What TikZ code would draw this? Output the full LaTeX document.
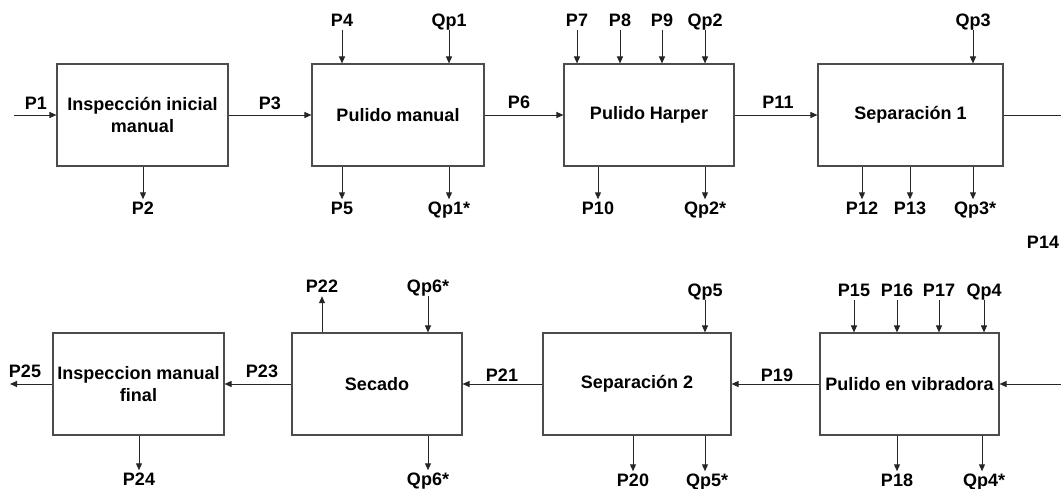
\documentclass[tikz,border=0pt]{standalone}
\usepackage{fontspec}
\setmainfont{Liberation Sans}
\usetikzlibrary{arrows.meta}
\begin{document}
\begin{tikzpicture}[x=1pt,y=-1pt,
  txt/.style={font=\fontsize{18}{22}\selectfont\bfseries},
  proc/.style={txt, draw=black!70, line width=1.1pt, minimum height=102pt,
    inner sep=0pt, align=center},
  lbl/.style={txt, anchor=base, text height=13pt, text depth=0pt, inner xsep=1pt},
  lblin/.style={lbl, inner ysep=4pt},
  lblout/.style={lbl, inner ysep=1.5pt},
  flow/.style={draw=black!85, line width=1pt, -{Triangle[length=7pt,width=6pt]}},
  plain/.style={draw=black!85, line width=1pt}]
\useasboundingbox (0,0) rectangle (1061,488);

% process blocks, upper row
\node[proc, minimum width=171pt] (b1) at (142.5,115) {Inspección inicial\\manual};
\node[proc, minimum width=172pt] (b2) at (398,115) {Pulido manual};
\node[proc, minimum width=170pt] (b3) at (649,115) {Pulido Harper};
\node[proc, minimum width=185pt] (b4) at (910.5,115) {Separación 1};
% process blocks, lower row
\node[proc, minimum width=171pt] (b5) at (138.5,384) {Inspeccion manual\\final};
\node[proc, minimum width=170pt] (b6) at (377,384) {Secado};
\node[proc, minimum width=188pt] (b7) at (637,384) {Separación 2};
\node[proc, minimum width=179pt] (b8) at (909.5,384) {Pulido en vibradora};

% main flow, upper row
\coordinate (in1) at (14,115);
\coordinate (out4) at (1061,115);
\draw[flow] (in1) -- (b1.west);
\draw[flow] (b1.east) -- (b2.west);
\draw[flow] (b2.east) -- (b3.west);
\draw[flow] (b3.east) -- (b4.west);
\draw[plain] (b4.east) -- (out4);
\node[lbl] (p1) at (36,109) {P1};
\node[lbl] (p3) at (270,109) {P3};
\node[lbl] (p6) at (519,108) {P6};
\node[lbl] (p11) at (778,108) {P11};
\node[lbl] (p14) at (1043,248) {P14};

% main flow, lower row
\coordinate (in8) at (1061,384);
\coordinate (out5) at (10,384);
\draw[flow] (in8) -- (b8.east);
\draw[flow] (b8.west) -- (b7.east);
\draw[flow] (b7.west) -- (b6.east);
\draw[flow] (b6.west) -- (b5.east);
\draw[flow] (b5.west) -- (out5);
\node[lbl] (p25) at (25,377) {P25};
\node[lbl] (p23) at (262,377) {P23};
\node[lbl] (p21) at (502,381) {P21};
\node[lbl] (p19) at (777,381) {P19};

% side streams entering from above, upper row
\node[lblin] (p4) at (342,26) {P4};
\node[lblin] (qp1) at (449,26) {Qp1};
\node[lblin] (p7) at (577,26) {P7};
\node[lblin] (p8) at (620,26) {P8};
\node[lblin] (p9) at (662,26) {P9};
\node[lblin] (qp2) at (705,26) {Qp2};
\node[lblin] (qp3) at (973,26) {Qp3};
\foreach \l/\b in {p4/b2,qp1/b2,p7/b3,p8/b3,p9/b3,qp2/b3,qp3/b4}
  \draw[flow] (\l.south) -- (\l |- \b.north);

% side streams leaving below, upper row
\node[lblout] (p2) at (143,214) {P2};
\node[lblout] (p5) at (342,214) {P5};
\node[lblout] (qp1s) at (449,214) {Qp1*};
\node[lblout] (p10) at (598,214) {P10};
\node[lblout] (qp2s) at (705,214) {Qp2*};
\node[lblout] (p12) at (862,214) {P12};
\node[lblout] (p13) at (910,214) {P13};
\node[lblout] (qp3s) at (975,214) {Qp3*};
\foreach \l/\b/\x in {p2/b1/143,p5/b2/342,qp1s/b2/449,p10/b3/598,qp2s/b3/705,p12/b4/862,p13/b4/910,qp3s/b4/973}
  \draw[flow] (\x,0 |- \b.south) -- (\x,0 |- \l.north);

% side streams entering from above, lower row
\node[lblin] (qp6) at (428,292) {Qp6*};
\node[lblin] (qp5) at (705,296) {Qp5};
\node[lblin] (p15) at (854,296) {P15};
\node[lblin] (p16) at (897,296) {P16};
\node[lblin] (p17) at (939,296) {P17};
\node[lblin] (qp4) at (984,296) {Qp4};
\foreach \l/\b in {qp6/b6,qp5/b7,p15/b8,p16/b8,p17/b8,qp4/b8}
  \draw[flow] (\l.south) -- (\l |- \b.north);

% vapour leaving the dryer upwards
\node[lblin] (p22) at (322,292) {P22};
\draw[flow] (p22 |- b6.north) -- (p22.south);

% side streams leaving below, lower row
\node[lblout] (p24) at (139,485) {P24};
\node[lblout] (qp6s) at (428,485) {Qp6*};
\node[lblout] (p20) at (633,486) {P20};
\node[lblout] (qp5s) at (707,486) {Qp5*};
\node[lblout] (p18) at (897,486) {P18};
\node[lblout] (qp4s) at (984,486) {Qp4*};
\foreach \l/\b/\x in {p24/b5/139,qp6s/b6/428,p20/b7/633,qp5s/b7/705,p18/b8/897,qp4s/b8/982}
  \draw[flow] (\x,0 |- \b.south) -- (\x,0 |- \l.north);
\end{tikzpicture}
\end{document}
